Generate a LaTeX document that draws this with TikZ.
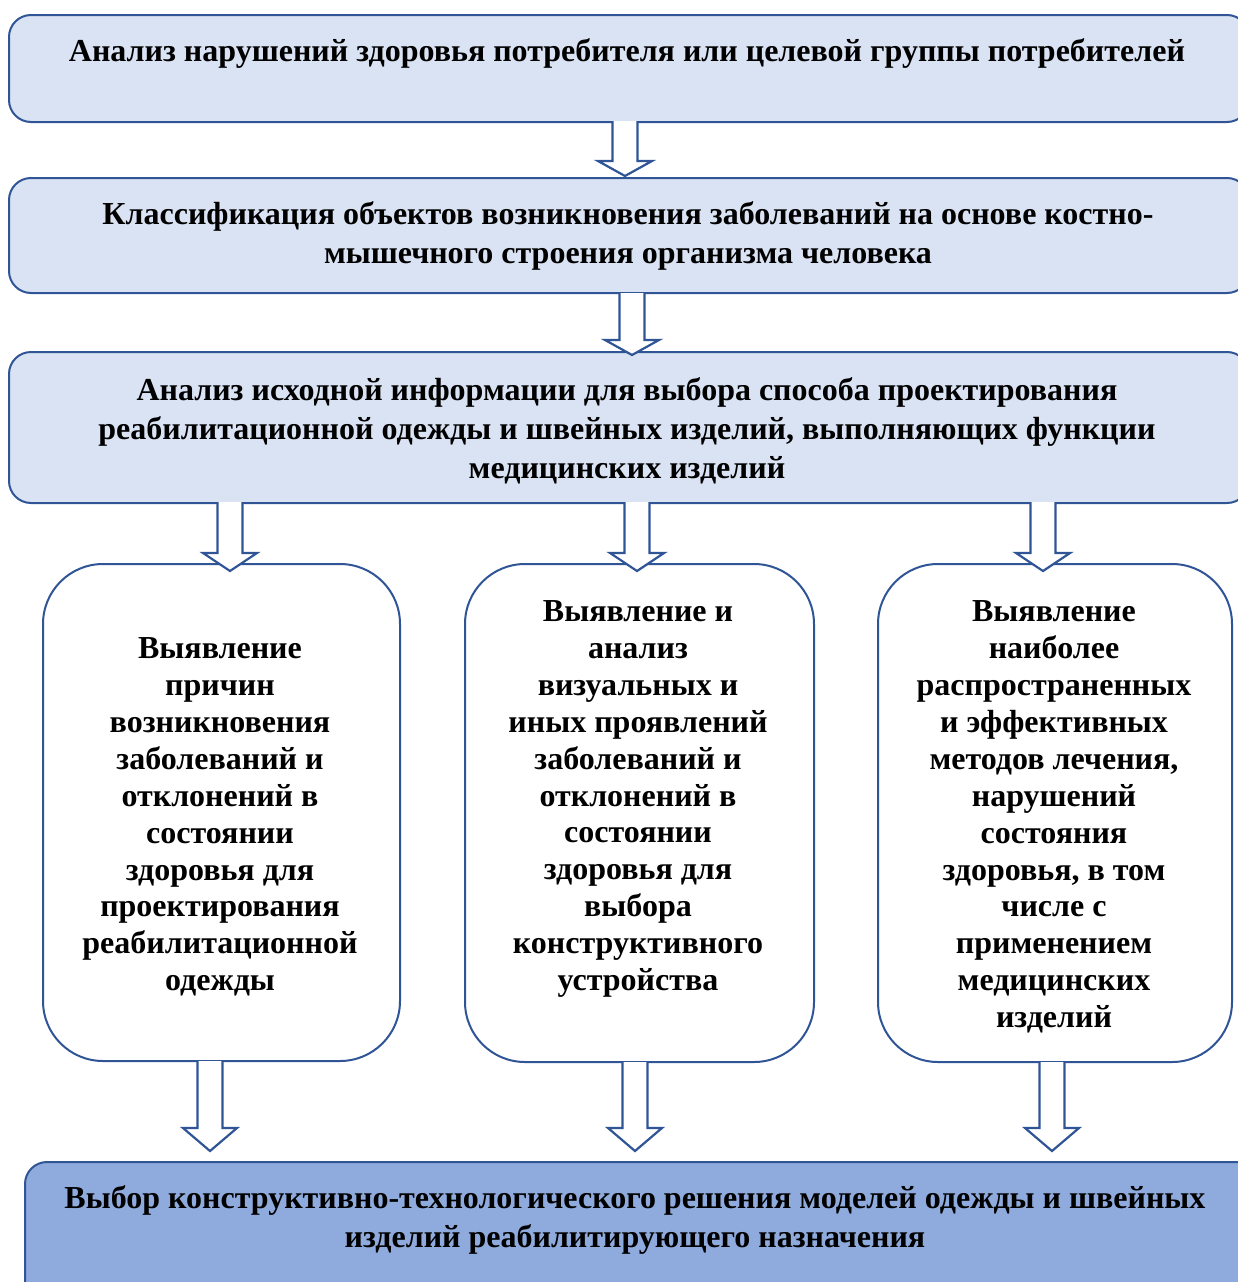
\documentclass[tikz,border=0pt]{standalone}
\usepackage{fontspec}
\setmainfont{Liberation Serif}
\definecolor{boxfill}{HTML}{DAE3F3}
\definecolor{boxline}{HTML}{2F5597}
\definecolor{lastfill}{HTML}{8FAADC}
\tikzset{
  wide/.style={draw=boxline, line width=2pt, fill=boxfill, rounded corners=22pt, anchor=north west, inner sep=0pt},
  col/.style={draw=boxline, line width=2pt, fill=white, rounded corners=60pt, anchor=north west, inner sep=0pt},
  lastbox/.style={wide, fill=lastfill},
  txt/.style={font=\bfseries\fontsize{32}{39}\selectfont, align=center, inner sep=0pt},
  ctxt/.style={font=\bfseries\fontsize{32}{36.9}\selectfont, align=center, inner sep=0pt},
  barrow/.style={draw=boxline, line width=2.2pt, fill=white, line join=miter}
}
\newcommand{\blockarrow}[5]{% cx, ytop, yhead, ytip, name
  \draw[barrow] (#1-12.5,#2) -- (#1-12.5,#3) -- (#1-27,#3) -- (#1,#4) -- (#1+27,#3) -- (#1+12.5,#3) -- (#1+12.5,#2);
  \coordinate (#5) at (#1,#4);
}
\begin{document}
\begin{tikzpicture}[x=1pt,y=-1pt]
\useasboundingbox (0,0) rectangle (1238,1282);
\clip (0,0) rectangle (1238,1282);
% wide boxes
\node[wide, minimum width=1240pt, minimum height=107pt] (b1) at (8,14) {};
\node[wide, minimum width=1240pt, minimum height=115pt] (b2) at (8,177) {};
\node[wide, minimum width=1240pt, minimum height=151pt] (b3) at (8,351) {};
\node[col, minimum width=357pt, minimum height=497pt] (c1) at (42,563) {};
\node[col, minimum width=349pt, minimum height=498pt] (c2) at (464,563) {};
\node[col, minimum width=354pt, minimum height=498pt] (c3) at (877,563) {};
\node[lastbox, minimum width=1240pt, minimum height=150pt] (b4) at (24,1161) {};
% texts
\node[txt] (t1) at (627,53) {Анализ нарушений здоровья потребителя или целевой группы потребителей};
\node[txt] (t2) at (628,236) {Классификация объектов возникновения заболеваний на основе костно-\\мышечного строения организма человека};
\node[txt] (t3) at (627,431) {Анализ исходной информации для выбора способа проектирования\\реабилитационной одежды и швейных изделий, выполняющих функции\\медицинских изделий};
\node[ctxt] (t4) at (220,817) {Выявление\\причин\\возникновения\\заболеваний и\\отклонений в\\состоянии\\здоровья для\\проектирования\\реабилитационной\\одежды};
\node[ctxt] (t5) at (638,799) {Выявление и\\анализ\\визуальных и\\иных проявлений\\заболеваний и\\отклонений в\\состоянии\\здоровья для\\выбора\\конструктивного\\устройства};
\node[ctxt] (t6) at (1054,817) {Выявление\\наиболее\\распространенных\\и эффективных\\методов лечения,\\нарушений\\состояния\\здоровья, в том\\числе с\\применением\\медицинских\\изделий};
\node[txt] (t7) at (635,1220) {Выбор конструктивно-технологического решения моделей одежды и швейных\\изделий реабилитирующего назначения};
% arrows
\blockarrow{625}{121}{161}{176}{a1}
\blockarrow{632}{293}{340}{355}{a2}
\blockarrow{230}{502}{553}{571}{a3}
\blockarrow{637}{502}{553}{571}{a4}
\blockarrow{1043}{502}{553}{571}{a5}
\blockarrow{210}{1061}{1128}{1151}{a6}
\blockarrow{635}{1062}{1128}{1151}{a7}
\blockarrow{1052}{1062}{1128}{1151}{a8}
\end{tikzpicture}
\end{document}
